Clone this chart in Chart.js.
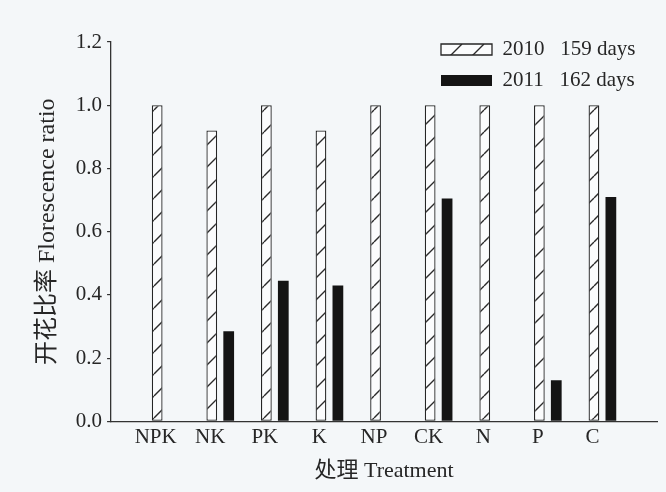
<!DOCTYPE html>
<html>
<head>
<meta charset="utf-8">
<script src="https://cdn.jsdelivr.net/npm/chart.js@4/dist/chart.umd.min.js"></script>
<style>
  html, body { margin: 0; padding: 0; background: #f4f7f9; }
  canvas { display: block; }
</style>
</head>
<body>
<canvas id="chart" width="666" height="492"></canvas>
<script>
// Treatments along the x axis
const treatments = ['NPK', 'NK', 'PK', 'K', 'NP', 'CK', 'N', 'P', 'C'];
// Florescence ratio per treatment, by year
const ratio2010 = [1.00, 0.92, 1.00, 0.92, 1.00, 1.00, 1.00, 1.00, 1.00];
const ratio2011 = [0, 0.285, 0.445, 0.43, 0, 0.705, 0, 0.13, 0.71];
const seriesNames = ['2010   159 days', '2011   162 days'];
const yTicks = [0, 0.2, 0.4, 0.6, 0.8, 1.0, 1.2];
const yTitle = '开花比率 Florescence ratio';
const xTitle = '处理 Treatment';

const FONT = "'Liberation Serif', 'Noto Sans CJK SC', serif";
const INK = '#262626';

// Diagonal hatch fill for the 2010 bars
function makeHatch() {
  const s = 22;
  const c = document.createElement('canvas');
  c.width = s; c.height = s;
  const g = c.getContext('2d');
  g.fillStyle = '#fbfcfd';
  g.fillRect(0, 0, s, s);
  g.strokeStyle = '#2b2b2b';
  g.lineWidth = 1.4;
  g.beginPath();
  for (const k of [-s, 0, s]) {
    g.moveTo(k, s);
    g.lineTo(k + s, 0);
  }
  g.stroke();
  return g.createPattern(c, 'repeat');
}

// Puts the legend in the upper right corner of the plot area
const legendPlacer = {
  id: 'legendPlacer',
  afterLayout(chart) {
    const lg = chart.legend;
    const a = chart.chartArea;
    if (!lg) return;
    lg.left = a.right - 226;
    lg.top = a.top - 13;
    lg.right = chart.width;
    lg.bottom = chart.height;
  }
};

// Empty slots at both ends leave half a category of space beside the outer groups
const labels = ['', ...treatments, ''];

new Chart(document.getElementById('chart'), {
  type: 'bar',
  data: {
    labels: labels,
    datasets: [
      {
        label: seriesNames[0],
        data: [null, ...ratio2010, null],
        backgroundColor: makeHatch(),
        borderColor: '#262626',
        borderWidth: 1.3,
        borderSkipped: false
      },
      {
        label: seriesNames[1],
        data: [null, ...ratio2011, null],
        backgroundColor: '#141414',
        borderWidth: 0
      }
    ]
  },
  options: {
    responsive: false,
    animation: false,
    events: [],
    devicePixelRatio: 1,
    datasets: { bar: { categoryPercentage: 0.62, barPercentage: 0.635 } },
    layout: { padding: { top: 42, right: 9, bottom: 0, left: 0 } },
    scales: {
      x: {
        offset: false,
        grid: { display: false, drawTicks: false, tickLength: 0 },
        border: { display: true, color: '#333', width: 1.3 },
        ticks: {
          autoSkip: false, maxRotation: 0, minRotation: 0,
          padding: 3, labelOffset: -10, color: INK,
          font: { family: FONT, size: 21 }
        },
        title: {
          display: true, text: xTitle, color: INK,
          font: { family: FONT, size: 22 },
          padding: { top: 5, bottom: 8 }
        }
      },
      y: {
        min: 0,
        max: 1.2,
        afterBuildTicks: (scale) => { scale.ticks = yTicks.map(v => ({ value: v })); },
        grid: { display: true, drawOnChartArea: false, drawTicks: true, tickLength: 4, color: '#333', lineWidth: 1.2 },
        border: { display: true, color: '#333', width: 1.3 },
        ticks: {
          padding: 5, color: INK,
          font: { family: FONT, size: 21 },
          callback: (v) => Number(v).toFixed(1)
        },
        title: {
          display: true, text: yTitle, color: INK,
          font: { family: FONT, size: 24 },
          padding: { top: 33, bottom: 9 }
        }
      }
    },
    plugins: {
      legend: {
        position: 'chartArea',
        align: 'start',
        labels: {
          boxWidth: 51, boxHeight: 11, padding: 10, color: INK,
          font: { family: FONT, size: 21 }
        }
      },
      tooltip: { enabled: false }
    }
  },
  plugins: [legendPlacer]
});
</script>
</body>
</html>
